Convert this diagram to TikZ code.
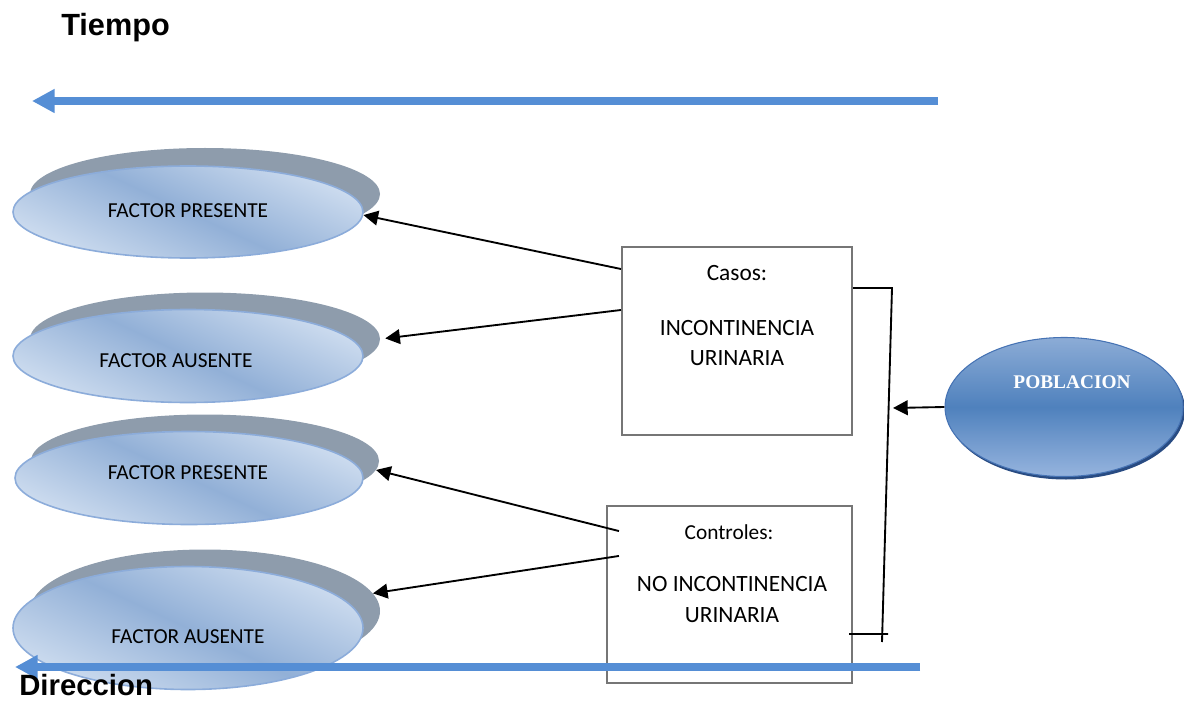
\documentclass[tikz,border=0pt]{standalone}
\usepackage{fontspec}
\setmainfont{Carlito}
\newfontfamily\headfont{Liberation Sans}
\newfontfamily\pobfont{Liberation Serif}
\usetikzlibrary{shapes.geometric,arrows.meta}
\definecolor{arrowblue}{RGB}{85,142,213}
\definecolor{ellshadow}{RGB}{142,156,172}
\definecolor{elllight}{RGB}{205,220,239}
\definecolor{elldark}{RGB}{146,176,215}
\definecolor{ellborder}{RGB}{140,172,218}
\definecolor{boxgray}{RGB}{118,118,118}
\definecolor{pobtop}{RGB}{140,172,214}
\definecolor{pobmid}{RGB}{79,129,189}
\definecolor{pobbot}{RGB}{150,180,222}
\definecolor{pobedge}{RGB}{40,75,130}
\definecolor{pobline}{RGB}{70,115,180}
\begin{document}
\begin{tikzpicture}[x=0.75pt,y=-0.75pt,
  factorsh/.style={ellipse, fill=ellshadow, inner sep=0pt},
  factor/.style={ellipse, draw=ellborder, line width=1.2pt, top color=elllight, bottom color=elllight, middle color=elldark, shading angle=-25, inner sep=0pt},
  ftext/.style={font=\fontsize{16}{19}\selectfont, inner sep=0pt},
  casebox/.style={draw=boxgray, line width=1.6pt, fill=white, inner sep=0pt},
  btext/.style={font=\fontsize{17.5}{23}\selectfont, inner sep=0pt, align=center},
  blackarrow/.style={line width=1.4pt, -{Triangle[length=11pt,width=11pt]}},
  bline/.style={line width=1.4pt},
  bluearrow/.style={draw=arrowblue, line width=6pt, -{Triangle[length=17pt,width=17pt]}},
  headtext/.style={font=\headfont\bfseries\fontsize{23}{27}\selectfont, inner sep=0pt, anchor=base west}
]
\useasboundingbox (0,0) rectangle (1184,702);
\clip (0,0) rectangle (1184,702);

% title
\node[headtext] (tiempo) at (61,36) {Tiempo};

% time arrow
\coordinate (ta) at (938,101);
\coordinate (tb) at (32,101);
\draw[bluearrow] (ta) -- (tb);

% left ellipses
\node[factorsh, minimum width=262.5pt, minimum height=69pt] (s1) at (205,194) {};
\node[factor, minimum width=262.5pt, minimum height=69pt] (e1) at (188,212) {};
\node[ftext] (t1) at (188,211) {FACTOR PRESENTE};

\node[factorsh, minimum width=262.5pt, minimum height=69.75pt] (s2) at (205,339) {};
\node[factor, minimum width=262.5pt, minimum height=69.75pt] (e2) at (188,356) {};
\node[ftext] (t2) at (176,361) {FACTOR AUSENTE};

\node[factorsh, minimum width=261pt, minimum height=69.75pt] (s3) at (205,461) {};
\node[factor, minimum width=261pt, minimum height=69.75pt] (e3) at (189,478) {};
\node[ftext] (t3) at (188,473) {FACTOR PRESENTE};

\node[factorsh, minimum width=262.5pt, minimum height=92.25pt] (s4) at (205,611) {};
\node[factor, minimum width=262.5pt, minimum height=92.25pt] (e4) at (188,628) {};
\node[ftext] (t4) at (188,637) {FACTOR AUSENTE};

% boxes
\node[casebox, minimum width=172.5pt, minimum height=141pt] (b1) at (737,341) {};
\node[btext] (b1a) at (737,273) {Casos:};
\node[btext] (b1b) at (737,343) {INCONTINENCIA\\URINARIA};

\node[casebox, minimum width=183.75pt, minimum height=132.75pt] (b2) at (729.5,594.5) {};
\node[btext, font=\fontsize{16}{19}\selectfont] (b2a) at (729,532) {Controles:};
\node[btext] (b2b) at (732,599.5) {NO INCONTINENCIA\\URINARIA};

% arrows to ellipses
\draw[blackarrow] ([yshift=54pt]b1.west) -- (e1.-1);
\draw[blackarrow, shorten >=3.75pt] ([yshift=23.25pt]b1.west) -- (s2.east);
\draw[blackarrow] ([xshift=9.75pt,yshift=47.6pt]b2.west) -- (s3.-3.4);
\draw[blackarrow] ([xshift=9.75pt,yshift=28.9pt]b2.west) -- (s4.6.4);

% bracket
\coordinate (c1) at (892,288);
\coordinate (c2) at (882,642);
\coordinate (c3) at (888,634);
\coordinate (pt) at (893,408);
\draw[bline] ([yshift=39.75pt]b1.east) -- (c1) -- (c2);
\draw[bline] ([xshift=-3pt,yshift=-29.6pt]b2.east) -- (c3);

% poblacion
\node[ellipse, fill=pobedge, inner sep=0pt, minimum width=178.5pt, minimum height=104.25pt] (pobsh) at (1066,410) {};
\node[ellipse, draw=pobline, line width=0.8pt, top color=pobtop, bottom color=pobbot, middle color=pobmid, inner sep=0pt, minimum width=178.5pt, minimum height=104.25pt] (pob) at (1064,407) {};
\node[font=\pobfont\bfseries\fontsize{14.5}{17}\selectfont, text=white, inner sep=0pt] (pobt) at (1072,382) {POBLACION};
\draw[blackarrow] (pob.west) -- (pt);

% direction arrow
\coordinate (da) at (920,667);
\coordinate (db) at (15,667);
\draw[bluearrow] (da) -- (db);
\node[headtext, font=\headfont\bfseries\fontsize{22}{26}\selectfont] (dir) at (19,695) {Direccion};
\end{tikzpicture}
\end{document}
